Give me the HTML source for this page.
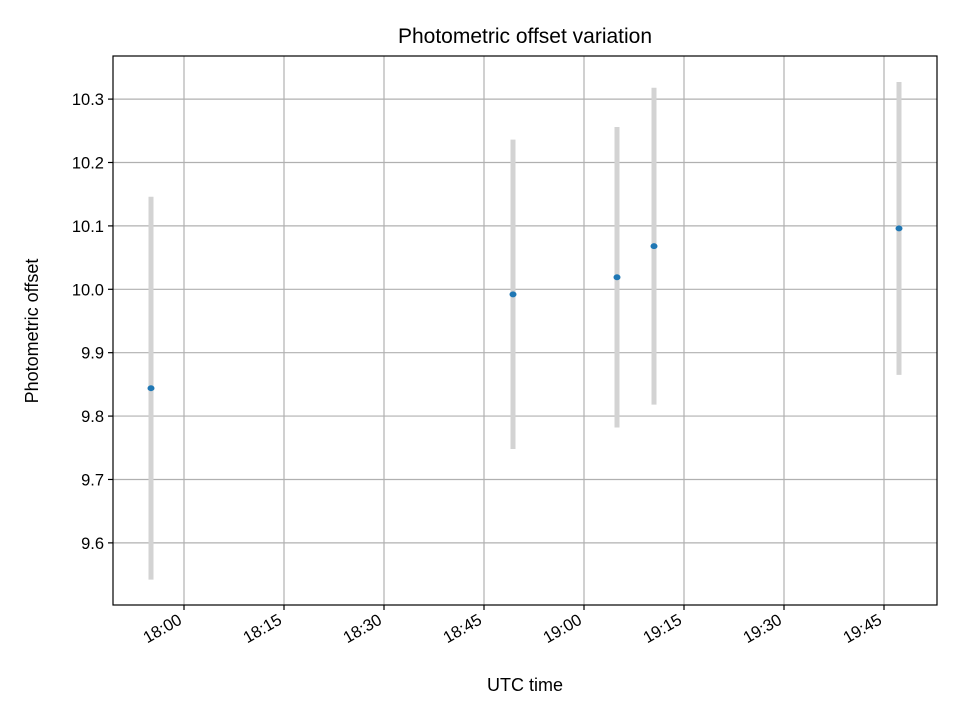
<!DOCTYPE html>
<html><head><meta charset="utf-8"><style>
html,body{margin:0;padding:0;background:#fff}
svg{display:block;font-family:"Liberation Sans","DejaVu Sans",sans-serif}
</style></head><body>
<svg id="chart" width="960" height="720">
<rect width="960" height="720" fill="#fff"/>
<g id="grid"></g>
<g id="marks"></g>
<g id="axes"></g>
<rect x="113" y="56" width="824" height="549" fill="none" stroke="#000" stroke-width="1.2"/>
<text x="525" y="43" text-anchor="middle" font-size="21">Photometric offset variation</text>
<text x="525" y="691" text-anchor="middle" font-size="18">UTC time</text>
<text transform="translate(38,331) rotate(-90)" text-anchor="middle" font-size="18">Photometric offset</text>
</svg>
<script>
// times in minutes after midnight UTC
const times = [1075.05, 1129.35, 1144.95, 1150.5, 1187.25];
const offsets = [9.844, 9.992, 10.019, 10.068, 10.096];
const errors = [0.302, 0.244, 0.237, 0.25, 0.231];
const xTickMinutes = [1080, 1095, 1110, 1125, 1140, 1155, 1170, 1185];
const xTickLabels = ["18:00","18:15","18:30","18:45","19:00","19:15","19:30","19:45"];
const yTicks = [9.6, 9.7, 9.8, 9.9, 10.0, 10.1, 10.2, 10.3];
const yTickLabels = ["9.6","9.7","9.8","9.9","10.0","10.1","10.2","10.3"];

const L=113,R=937,T=56,B=605;
const xMin=1069.35,xMax=1192.95,yMin=9.502,yMax=10.368;
const xs=v=>L+(v-xMin)/(xMax-xMin)*(R-L);
const ys=v=>B-(v-yMin)/(yMax-yMin)*(B-T);
const NS="http://www.w3.org/2000/svg";
function mk(tag,attrs,parent){const e=document.createElementNS(NS,tag);for(const k in attrs)e.setAttribute(k,attrs[k]);parent.appendChild(e);return e;}
const grid=document.getElementById('grid'),axes=document.getElementById('axes'),marks=document.getElementById('marks');

xTickMinutes.forEach((m,i)=>{
  const x=xs(m);
  const g=mk('line',{x1:x,x2:x,y1:T,y2:B,stroke:'#b0b0b0','stroke-width':1.2},grid);
  
  
  const t=mk('line',{x1:x,x2:x,y1:B,y2:B+5,stroke:'#000','stroke-width':1.2},axes);
  
  
  const lb=mk('text',{'text-anchor':'end','font-size':16.5,transform:`translate(${x-1},${B+18}) rotate(-30)`},axes);
  lb.textContent=xTickLabels[i];
  
  
});
yTicks.forEach((v,i)=>{
  const y=ys(v);
  const g=mk('line',{x1:L,x2:R,y1:y,y2:y,stroke:'#b0b0b0','stroke-width':1.2},grid);
  
  
  const t=mk('line',{x1:L-5,x2:L,y1:y,y2:y,stroke:'#000','stroke-width':1.2},axes);
  
  
  const lb=mk('text',{x:L-9,y:y+6,'text-anchor':'end','font-size':16.5},axes);
  lb.textContent=yTickLabels[i];
  
  
});
times.forEach((m,i)=>{
  const x=xs(m);
  const eb=mk('line',{x1:x,x2:x,y1:ys(offsets[i]+errors[i]),y2:ys(offsets[i]-errors[i]),stroke:'#d3d3d3','stroke-width':5},marks);
  
  
});
times.forEach((m,i)=>{
  const p=mk('ellipse',{cx:xs(m),cy:ys(offsets[i]),rx:3.5,ry:3,fill:'#1f77b4'},marks);
  
  
});
</script>
</body></html>
